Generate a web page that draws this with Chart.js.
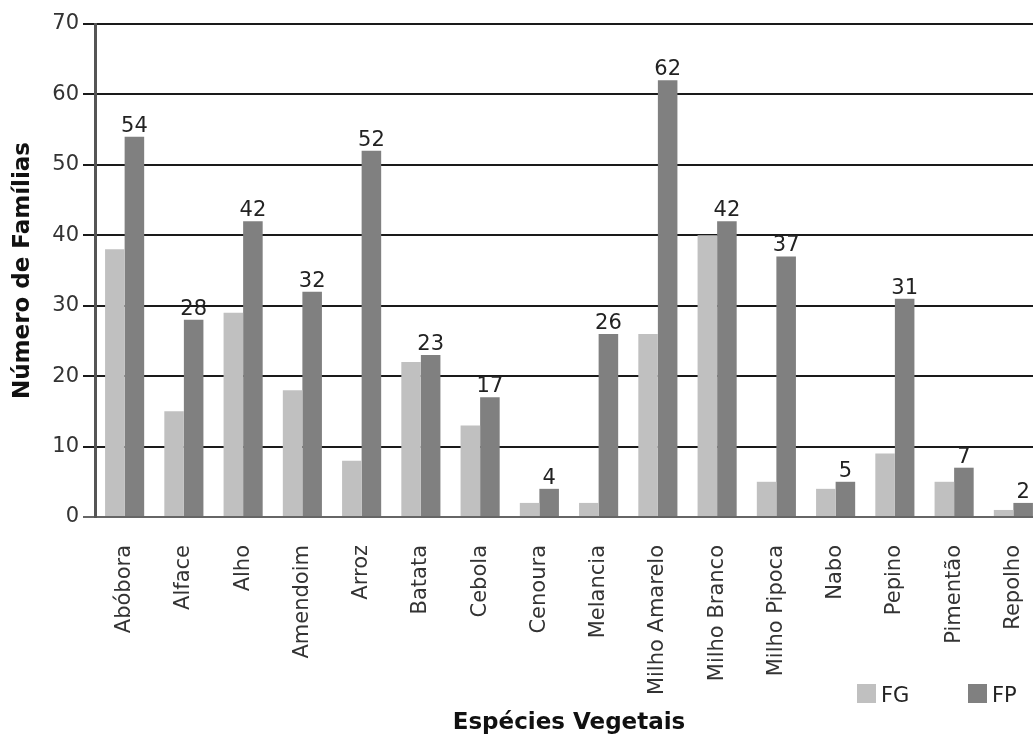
<!DOCTYPE html>
<html lang="pt">
<head>
<meta charset="utf-8">
<title>Número de Famílias por Espécie Vegetal</title>
<script src="https://cdn.jsdelivr.net/npm/chart.js@4/dist/chart.umd.min.js"></script>
<style>
  html, body { margin: 0; padding: 0; background: #fff; overflow: hidden; }
  #wrap { width: 1045px; height: 735px; }
</style>
</head>
<body>
<div id="wrap"><canvas id="chart" width="1045" height="735"></canvas></div>
<script>
'use strict';

// ── Data ────────────────────────────────────────────────────────────────────

const especies = [
  'Abóbora', 'Alface', 'Alho', 'Amendoim', 'Arroz', 'Batata', 'Cebola', 'Cenoura',
  'Melancia', 'Milho Amarelo', 'Milho Branco', 'Milho Pipoca', 'Nabo', 'Pepino',
  'Pimentão', 'Repolho',
];
const valoresFG = [38, 15, 29, 18, 8, 22, 13, 2, 2, 26, 40, 5, 4, 9, 5, 1];
const valoresFP = [54, 28, 42, 32, 52, 23, 17, 4, 26, 62, 42, 37, 5, 31, 7, 2];
const yTicks = [0, 10, 20, 30, 40, 50, 60, 70];

const COR_FG = '#c0c0c0';
const COR_FP = '#808080';
const FONT = "'DejaVu Sans', Verdana, sans-serif";

// ── Plugins ─────────────────────────────────────────────────────────────────

// value labels above the FP bars only
const fpLabels = {
  id: 'fpLabels',
  afterDatasetsDraw(chart) {
    const ctx = chart.ctx;
    const meta = chart.getDatasetMeta(1);
    ctx.save();
    ctx.font = `21px ${FONT}`;
    ctx.fillStyle = '#222';
    ctx.textAlign = 'center';
    ctx.textBaseline = 'alphabetic';
    meta.data.forEach((bar, i) => {
      ctx.fillText(String(chart.data.datasets[1].data[i]), bar.x, bar.y - 5);
    });
    ctx.restore();
  },
};

// small legend in the bottom-right corner
const cornerLegend = {
  id: 'cornerLegend',
  afterDraw(chart) {
    const ctx = chart.ctx;
    const spots = [857, 968];
    ctx.save();
    ctx.font = `21px ${FONT}`;
    ctx.textBaseline = 'alphabetic';
    ctx.textAlign = 'left';
    chart.data.datasets.forEach((ds, i) => {
      const x = spots[i];
      ctx.fillStyle = ds.backgroundColor;
      ctx.fillRect(x, 684, 19, 19);
      ctx.fillStyle = '#222';
      ctx.fillText(ds.label, x + 24, 702);
    });
    ctx.restore();
  },
};

// ── Chart ───────────────────────────────────────────────────────────────────

new Chart(document.getElementById('chart'), {
  type: 'bar',
  data: {
    labels: especies,
    datasets: [
      { label: 'FG', data: valoresFG, backgroundColor: COR_FG },
      { label: 'FP', data: valoresFP, backgroundColor: COR_FP },
    ],
  },
  options: {
    responsive: false,
    animation: false,
    devicePixelRatio: 1,
    layout: { padding: { top: 24, right: 2, bottom: 0, left: 0 } },
    datasets: {
      bar: { categoryPercentage: 0.66, barPercentage: 1.0 },
    },
    plugins: {
      legend: { display: false },
      tooltip: { enabled: false },
    },
    scales: {
      x: {
        grid: { display: false, drawTicks: false },
        border: { display: true, color: '#666', width: 2 },
        ticks: {
          autoSkip: false,
          minRotation: 90,
          maxRotation: 90,
          padding: 28,
          color: '#333',
          font: { family: FONT, size: 21 },
        },
        title: {
          display: true,
          text: 'Espécies Vegetais',
          color: '#111',
          font: { family: FONT, size: 23, weight: 'bold', lineHeight: 1 },
          padding: { top: 0, bottom: 0 },
        },
        afterFit(scale) {
          scale.height = 218;
          scale.paddingLeft = 0;
          scale.paddingRight = 0;
        },
      },
      y: {
        min: 0,
        max: 70,
        afterBuildTicks(scale) { scale.ticks = yTicks.map(v => ({ value: v })); },
        grid: {
          color: c => (c.tick && c.tick.value === 0 ? '#666' : '#1a1a1a'),
          lineWidth: 2,
          tickLength: 12,
        },
        border: { display: true, color: '#555', width: 3 },
        ticks: {
          padding: 4,
          color: '#333',
          font: { family: FONT, size: 21 },
        },
        title: {
          display: true,
          text: 'Número de Famílias',
          color: '#111',
          font: { family: FONT, size: 23, weight: 'bold', lineHeight: 1 },
          padding: { top: 12, bottom: 0 },
        },
        afterFit(scale) { scale.width = 95; },
      },
    },
  },
  plugins: [fpLabels, cornerLegend],
});
</script>
</body>
</html>
